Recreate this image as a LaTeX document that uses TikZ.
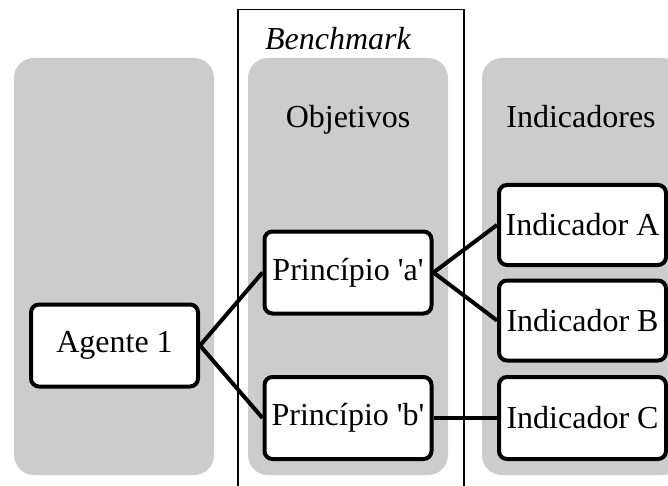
\documentclass[tikz,border=0pt]{standalone}
\usepackage{fontspec}
\newfontfamily\serifmain{Liberation Serif}
\usepackage{tikz}
\usetikzlibrary{positioning}

\begin{document}
\begin{tikzpicture}[
x=0.5pt, y=-0.5pt,
every node/.style={font=\serifmain\fontsize{16}{19}\selectfont},
panel/.style={fill=black!20, draw=none, rounded corners=10pt, minimum width=100pt, minimum height=208.5pt},
box/.style={draw, fill=white, line width=2pt, rounded corners=4pt, minimum width=83.5pt, minimum height=41pt, inner sep=1pt},
link/.style={line width=2pt},
frame/.style={draw, line width=0.75pt}
]
\useasboundingbox (0,0) rectangle (668,486);
\clip (0,0) rectangle (668,486);

% ====== Columns ======
\node[panel] (agentcol) at (114,266.5) {};
\node[panel] (goalcol) at (348,266.5) {};
\node[panel] (indcol) at (582,266.5) {};

% ====== Benchmark frame ======
\node[frame, minimum width=113pt, minimum height=250pt, anchor=north west] (bench) at (237,9) {};
\node[anchor=base west, font=\serifmain\itshape\fontsize{16}{19}\selectfont] (benchlbl) at (258,50) {Benchmark};

% ====== Column labels ======
\node[anchor=base] (goallbl) at (348,128) {Objetivos};
\node[anchor=base] (indlbl) at (581,128) {Indicadores};

% ====== Boxes ======
\node[box] (agent) at (114.5,345.5) {Agente 1};
\node[box] (princA) at (348,272.5) {Princípio 'a'};
\node[box] (princB) at (348,418) {Princípio 'b'};
\node[box, minimum height=40pt] (indA) at (582.5,225) {Indicador A};
\node[box, minimum height=40pt] (indB) at (582.5,320.5) {Indicador B};
\node[box] (indC) at (582.5,418) {Indicador C};

% ====== Connections ======
\draw[link] (agent.east) -- (princA.west);
\draw[link] (agent.east) -- (princB.west);
\draw[link] (princA.east) -- (indA.west);
\draw[link] (princA.east) -- (indB.west);
\draw[link] (princB.east) -- (indC.west);

\end{tikzpicture}
\end{document}
